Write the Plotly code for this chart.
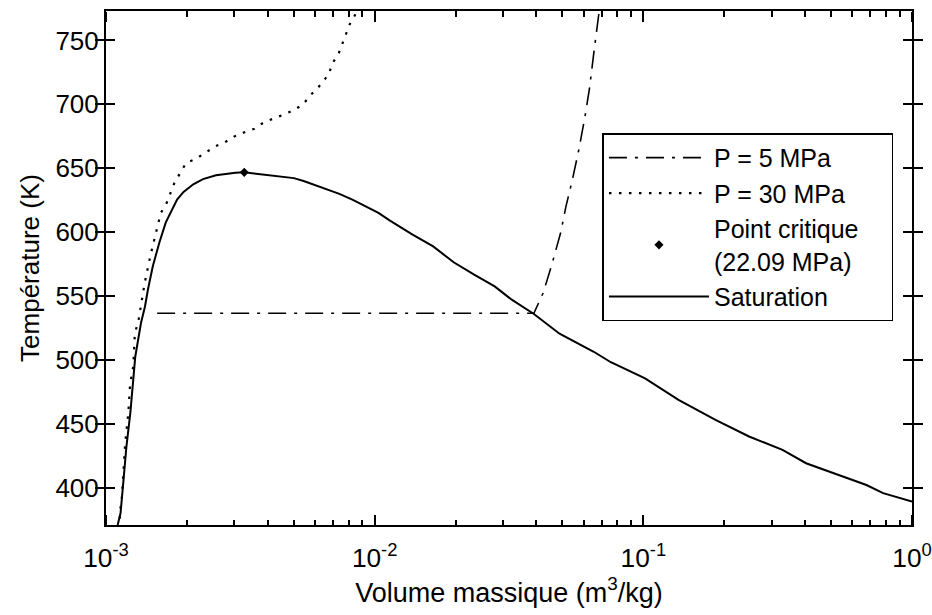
import plotly.graph_objects as go

# ---------------- data ----------------
sat_v = [1.105e-3, 1.133e-3, 1.162e-3, 1.191e-3, 1.232e-3, 1.263e-3, 1.285e-3, 1.317e-3,
         1.350e-3, 1.396e-3, 1.432e-3, 1.492e-3, 1.579e-3, 1.668e-3, 1.764e-3, 1.839e-3,
         1.944e-3, 2.113e-3, 2.297e-3, 2.567e-3, 3.033e-3, 3.27e-3,
         3.684e-3, 4.478e-3, 5.004e-3, 5.44e-3, 5.91e-3, 6.61e-3, 7.39e-3, 8.26e-3,
         9.22e-3, 1.033e-2, 1.14e-2, 1.384e-2, 1.651e-2, 1.968e-2, 2.346e-2, 2.797e-2,
         3.237e-2, 3.915e-2, 4.877e-2, 6.54e-2, 7.57e-2, 0.1015, 0.1352, 0.1856,
         0.2474, 0.3296, 0.4034, 0.5073, 0.6766, 0.7808, 1.0]
sat_T = [371.0, 380.4, 406.3, 432.1, 458.7, 484.6, 502.6, 515.9,
         529.2, 541.7, 555.0, 573.0, 591.8, 607.5, 617.7, 625.5,
         631.5, 637.5, 641.5, 644.5, 646.5, 646.8,
         645.5, 643.8, 642.3, 640.0, 637.2, 633.9, 630.0, 625.5,
         620.3, 615.1, 609.0, 598.1, 588.9, 576.5, 566.8, 557.6,
         547.2, 536.0, 520.6, 506.5, 498.3, 485.7, 468.9, 453.2,
         440.2, 429.8, 419.3, 411.5, 402.3, 395.9, 389.3]

p5_v = [1.55e-3, 3.915e-2, 4.24e-2, 4.57e-2, 4.93e-2, 5.15e-2, 5.43e-2, 5.76e-2,
        6.06e-2, 6.30e-2, 6.54e-2, 6.85e-2]
p5_T = [536.6, 536.6, 552.6, 575.0, 600.0, 620.0, 640.0, 665.0,
        690.0, 712.0, 740.0, 773.0]

p30_v = [1.125e-3, 1.130e-3, 1.146e-3, 1.162e-3, 1.179e-3, 1.211e-3, 1.229e-3, 1.263e-3,
         1.281e-3, 1.317e-3, 1.354e-3, 1.393e-3, 1.471e-3, 1.534e-3, 1.600e-3, 1.682e-3,
         1.739e-3, 1.798e-3, 1.890e-3, 1.987e-3, 2.160e-3, 2.348e-3, 2.553e-3, 2.775e-3,
         3.015e-3, 3.279e-3, 3.564e-3, 3.873e-3, 4.21e-3, 4.603e-3, 4.973e-3, 5.41e-3,
         5.80e-3, 6.31e-3, 6.76e-3, 6.95e-3, 7.34e-3, 7.55e-3, 7.81e-3, 8.07e-3,
         8.48e-3, 8.61e-3]
p30_T = [376.0, 382.8, 393.0, 411.7, 435.2, 458.7, 480.6, 495.0,
         521.4, 529.2, 543.3, 560.3, 583.8, 599.4, 615.1, 622.9,
         630.8, 638.6, 646.4, 654.2, 657.4, 662.5, 667.2, 670.4,
         675.1, 678.2, 680.9, 686.0, 688.7, 692.1, 695.2, 699.9,
         707.7, 715.5, 723.9, 731.8, 739.6, 746.9, 754.7, 762.5,
         770.4, 773.0]

crit_v = [3.27e-3]
crit_T = [646.8]

x_exponents = [-3, -2, -1, 0]
x_ticktext = ["10<sup>-3</sup>", "10<sup>-2</sup>", "10<sup>-1</sup>", "10<sup>0</sup>"]
y_tickvals = [400, 450, 500, 550, 600, 650, 700, 750]

FONT = "Liberation Sans, Arial, Helvetica, sans-serif"
NB = "\u00a0"
X_RANGE = [-3, 0]


def plotly_log_label(p):
    # label that plotly itself generates for 10^p with exponentformat="power"
    if p == 0:
        return "1"
    if p == 1:
        return "10"
    return "10<sup>" + ("" if p > 1 else "\u2212") + str(abs(p)) + "</sup>"


x_alias = {plotly_log_label(p): t for p, t in zip(x_exponents, x_ticktext)}

fig = go.Figure()
# the 5 MPa and 30 MPa curves sit on identical overlay log axes (same fixed range),
# which also carry inward-pointing tick marks at the bottom and top of the frame
fig.add_trace(go.Scatter(x=p5_v, y=p5_T, mode="lines", name="P = 5 MPa",
                         legendgroup="a", xaxis="x2", yaxis="y",
                         line=dict(color="black", width=1.6, dash="18px,8px,3px,8px")))
fig.add_trace(go.Scatter(x=p30_v, y=p30_T, mode="lines", name="P = 30 MPa",
                         legendgroup="b", xaxis="x3", yaxis="y",
                         line=dict(color="black", width=2.2, dash="2.5px,7.5px")))
fig.add_trace(go.Scatter(x=crit_v, y=crit_T, mode="markers",
                         name="Point critique" + NB * 4 + "<br>(22.09 MPa)", legendgroup="c",
                         marker=dict(color="black", symbol="diamond", size=7)))
fig.add_trace(go.Scatter(x=sat_v, y=sat_T, mode="lines", name="Saturation",
                         legendgroup="d",
                         line=dict(color="black", width=2)))

# tick-mark-only log axes: side flipped so that "outside" ticks point into the plot
tick_axis = dict(type="log", range=X_RANGE, overlaying="x", anchor="free",
                 tickmode="linear", tick0=0, dtick=1, showticklabels=False,
                 showgrid=False, zeroline=False, showline=False,
                 ticks="outside", ticklen=10, tickwidth=2, tickcolor="black",
                 minor=dict(ticks="outside", ticklen=5, dtick="D1", tickcolor="black",
                            tickwidth=2, showgrid=False),
                 automargin=False)

fig.update_layout(
    xaxis=dict(type="log", range=X_RANGE, tickmode="linear", tick0=0, dtick=1,
               exponentformat="power", labelalias=x_alias,
               showgrid=False, zeroline=False, showline=True, linecolor="black",
               linewidth=2, mirror="allticks", automargin=False,
               ticks="inside", ticklen=10, tickwidth=2, tickcolor="black",
               minor=dict(ticks="inside", ticklen=5, dtick="D1", tickcolor="black",
                          tickwidth=2, showgrid=False),
               ticklabelshift=0, ticklabelstandoff=10, ticklabeloverflow="allow",
               tickfont=dict(family=FONT, size=21, color="black"),
               title=dict(text="Volume massique (m<sup>3</sup>/kg)",
                          font=dict(family=FONT, size=27, color="black"), standoff=6)),
    xaxis2=dict(side="top", position=0, **tick_axis),
    xaxis3=dict(side="bottom", position=1, **tick_axis),
    yaxis=dict(range=[371, 773], tickmode="array", tickvals=y_tickvals, ticklen=9,
               showgrid=False, zeroline=False, showline=True, linecolor="black",
               linewidth=2, ticks="inside", tickcolor="black", tickwidth=1.5,
               mirror="allticks", automargin=False,
               tickfont=dict(family=FONT, size=26, color="black"),
               title=dict(text="Température (K)",
                          font=dict(family=FONT, size=26, color="black"), standoff=8)),
)

fig.update_layout(
    width=932, height=615,
    margin=dict(l=106, r=20, t=11, b=90),
    paper_bgcolor="white", plot_bgcolor="white",
    font=dict(family=FONT, color="black"),
    legend=dict(x=0.977, xanchor="right", y=0.762, yanchor="top",
                bgcolor="white", bordercolor="black", borderwidth=1.5,
                font=dict(family=FONT, size=25, color="black"),
                traceorder="grouped", tracegroupgap=0, itemwidth=100),
)

fig.write_html("out.html")
